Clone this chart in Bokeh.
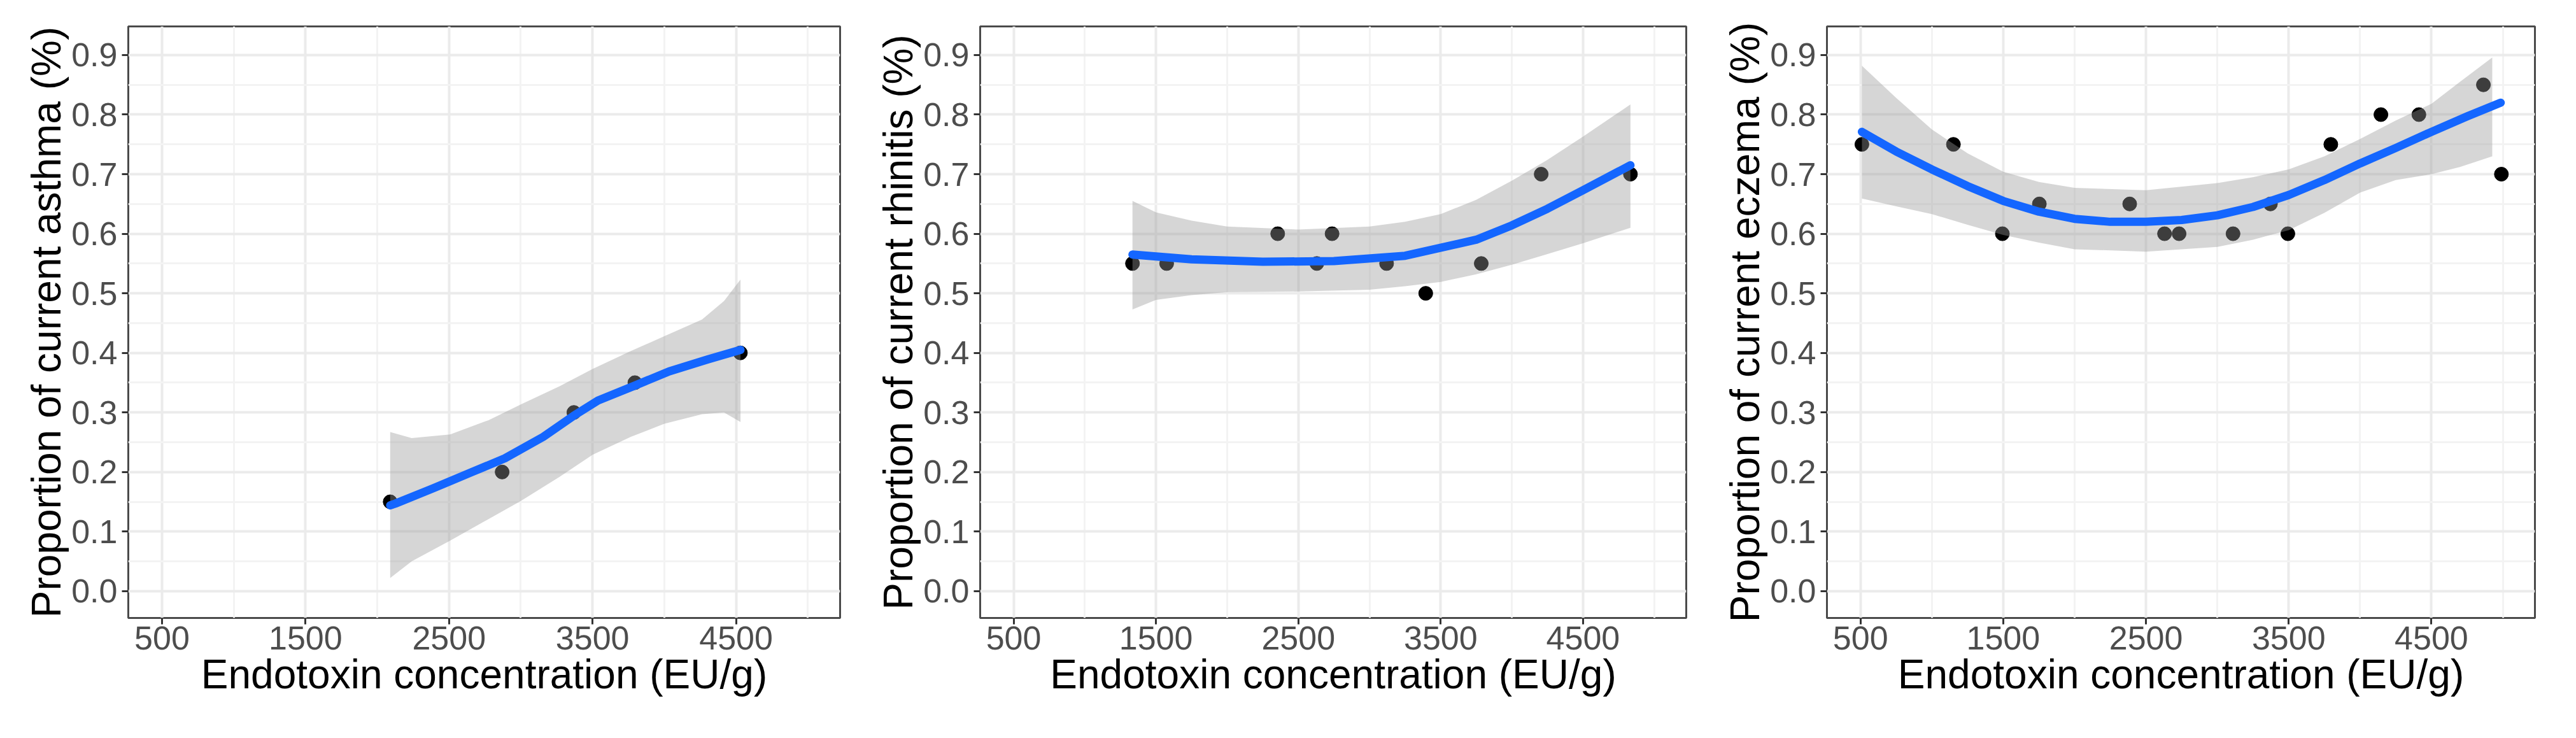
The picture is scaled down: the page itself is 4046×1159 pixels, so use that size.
from bokeh.plotting import figure
from bokeh.layouts import row
from bokeh.models import Range1d, FixedTicker
from bokeh.embed import file_html
from bokeh.resources import INLINE

# ---------------- data ----------------
x_ticks = [500, 1500, 2500, 3500, 4500]
x_minor = [1000, 2000, 3000, 4000, 5000]
y_ticks = [0.0, 0.1, 0.2, 0.3, 0.4, 0.5, 0.6, 0.7, 0.8, 0.9]
y_tick_labels = ["0.0", "0.1", "0.2", "0.3", "0.4", "0.5", "0.6", "0.7", "0.8", "0.9"]
y_minor = [-0.05, 0.05, 0.15, 0.25, 0.35, 0.45, 0.55, 0.65, 0.75, 0.85, 0.95]

x_title = "Endotoxin concentration (EU/g)"

# asthma
asthma_x = [2090, 2870, 3370, 3795, 4530]
asthma_y = [0.15, 0.20, 0.30, 0.35, 0.40]
asthma_fit_x = [2090, 2126, 2393, 2660, 2889, 3156, 3366, 3538, 3794, 4034, 4302, 4531]
asthma_fit = [0.144, 0.147, 0.173, 0.200, 0.223, 0.259, 0.294, 0.320, 0.345, 0.369, 0.389, 0.405]
asthma_band_x = [2090, 2240, 2508, 2775, 3004, 3271, 3500, 3767, 4000, 4263, 4416, 4531]
asthma_lo = [0.022, 0.050, 0.085, 0.121, 0.152, 0.192, 0.229, 0.259, 0.281, 0.297, 0.300, 0.284]
asthma_hi = [0.267, 0.257, 0.263, 0.287, 0.314, 0.344, 0.373, 0.403, 0.428, 0.456, 0.487, 0.523]

# rhinitis
rhinitis_x = [1335, 1575, 2355, 2630, 2737, 3120, 3395, 3785, 4206, 4833]
rhinitis_y = [0.55, 0.55, 0.60, 0.55, 0.60, 0.55, 0.50, 0.55, 0.70, 0.70]
rhinitis_fit_x = [1335, 1750, 2250, 2750, 3250, 3750, 4000, 4250, 4500, 4833]
rhinitis_fit = [0.565, 0.557, 0.553, 0.554, 0.563, 0.590, 0.614, 0.642, 0.673, 0.715]
rhinitis_band_x = [1335, 1500, 1750, 2000, 2500, 3000, 3250, 3500, 3750, 4000, 4250, 4500, 4833]
rhinitis_lo = [0.473, 0.489, 0.497, 0.502, 0.503, 0.506, 0.512, 0.519, 0.532, 0.548, 0.566, 0.584, 0.610]
rhinitis_hi = [0.655, 0.636, 0.622, 0.612, 0.607, 0.612, 0.620, 0.633, 0.657, 0.689, 0.724, 0.763, 0.817]

# eczema
eczema_x = [510, 1151, 1494, 1753, 2386, 2630, 2732, 3110, 3372, 3494,
            3795, 4146, 4412, 4864, 4990]
eczema_y = [0.75, 0.75, 0.60, 0.65, 0.65, 0.60, 0.60, 0.60, 0.65, 0.60,
            0.75, 0.80, 0.80, 0.85, 0.70]
eczema_fit_x = [510, 750, 1000, 1250, 1500, 1750, 2000, 2250, 2500, 2750, 3000,
                3250, 3500, 3750, 4000, 4250, 4500, 4750, 4985]
eczema_fit = [0.771, 0.738, 0.708, 0.680, 0.655, 0.637, 0.625, 0.620, 0.620, 0.623, 0.631,
              0.645, 0.665, 0.690, 0.718, 0.744, 0.771, 0.797, 0.820]
eczema_band_x = [510, 750, 1000, 1250, 1500, 1750, 2000, 2500, 3000, 3250, 3500,
                 3750, 4000, 4250, 4500, 4700, 4926]
eczema_lo = [0.659, 0.646, 0.633, 0.615, 0.598, 0.585, 0.574, 0.570, 0.578, 0.590, 0.606,
             0.635, 0.669, 0.690, 0.700, 0.712, 0.730]
eczema_hi = [0.882, 0.828, 0.775, 0.735, 0.704, 0.687, 0.677, 0.673, 0.685, 0.695, 0.708,
             0.730, 0.759, 0.790, 0.818, 0.855, 0.896]

FONT = "Liberation Sans"


def make_panel(ytitle, px, py, fx, fy, bx, blo, bhi, width, left, right):
    p = figure(width=width, height=1143, output_backend="svg", toolbar_location=None,
               x_range=Range1d(265, 5225), y_range=Range1d(-0.045, 0.948),
               min_border_left=left, min_border_right=right,
               min_border_top=41, min_border_bottom=173)
    p.background_fill_color = "white"
    p.border_fill_color = "white"
    p.outline_line_color = "#4a4a4a"
    p.outline_line_width = 3

    p.xaxis.ticker = FixedTicker(ticks=x_ticks, minor_ticks=x_minor)
    p.yaxis.ticker = FixedTicker(ticks=y_ticks, minor_ticks=y_minor)
    p.yaxis.major_label_overrides = {t: l for t, l in zip(y_ticks, y_tick_labels)}

    for g in (p.xgrid, p.ygrid):
        g.grid_line_color = "#EBEBEB"
        g.grid_line_width = 4
        g.minor_grid_line_color = "#F3F3F3"
        g.minor_grid_line_width = 3

    for ax in (p.xaxis, p.yaxis):
        ax.axis_line_color = None
        ax.major_tick_line_color = "#333333"
        ax.major_tick_line_width = 3
        ax.major_tick_out = 10
        ax.major_tick_in = 0
        ax.minor_tick_out = 0
        ax.minor_tick_in = 0
        ax.major_label_text_font = FONT
        ax.major_label_text_font_size = "52px"
        ax.major_label_text_color = "#4D4D4D"
        ax.axis_label_text_font = FONT
        ax.axis_label_text_font_size = "64px"
        ax.axis_label_text_font_style = "normal"
        ax.axis_label_text_color = "black"

    p.xaxis.axis_label = x_title
    p.xaxis.major_label_standoff = 3
    p.xaxis.axis_label_standoff = 0
    p.yaxis.axis_label = ytitle
    p.yaxis.major_label_standoff = 7
    p.yaxis.axis_label_standoff = 0

    p.scatter(px, py, size=22, color="black")
    p.varea(x=bx, y1=blo, y2=bhi, fill_color="#999999", fill_alpha=0.4)
    p.line(fx, fy, line_color="#1466FF", line_width=13, line_cap="round",
           line_join="round")
    return p


p1 = make_panel("Proportion of current asthma (%)", asthma_x, asthma_y,
                asthma_fit_x, asthma_fit, asthma_band_x, asthma_lo, asthma_hi,
                1372, 201, 53)
p2 = make_panel("Proportion of current rhinitis (%)", rhinitis_x, rhinitis_y,
                rhinitis_fit_x, rhinitis_fit, rhinitis_band_x, rhinitis_lo, rhinitis_hi,
                1330, 158, 54)
p3 = make_panel("Proportion of current eczema (%)", eczema_x, eczema_y,
                eczema_fit_x, eczema_fit, eczema_band_x, eczema_lo, eczema_hi,
                1328, 162, 49)

layout = row(p1, p2, p3)
open("out.html", "w").write(file_html(layout, INLINE))
